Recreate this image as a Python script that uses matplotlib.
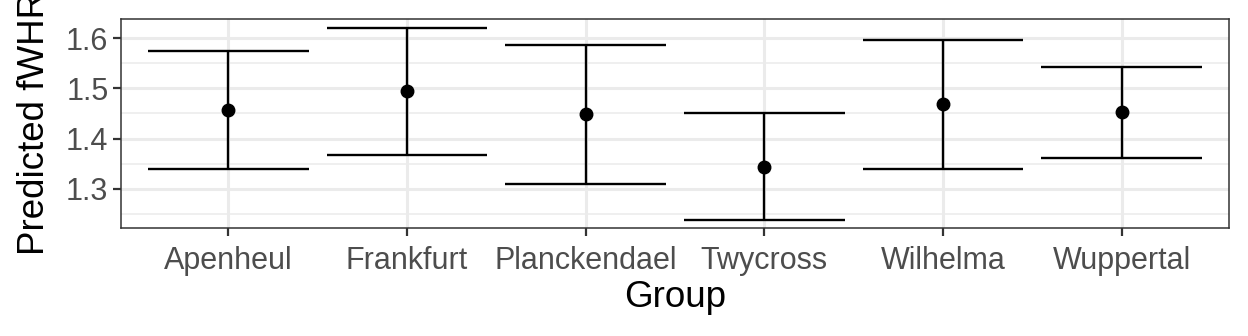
import matplotlib
matplotlib.use("Agg")
import matplotlib.pyplot as plt
from matplotlib.ticker import FixedLocator

groups = ["Apenheul", "Frankfurt", "Planckendael", "Twycross", "Wilhelma", "Wuppertal"]
fit = [1.456, 1.494, 1.448, 1.344, 1.468, 1.452]
lower = [1.340, 1.368, 1.310, 1.238, 1.340, 1.362]
upper = [1.574, 1.620, 1.586, 1.450, 1.596, 1.542]

plt.rcParams['font.family'] = ['Liberation Sans', 'DejaVu Sans']
DPI = 100
fig = plt.figure(figsize=(12.48, 3.36), dpi=DPI)
ax = fig.add_axes([121/1248, 1 - 228/336, (1229-121)/1248, (228-19)/336])

x = list(range(1, len(groups) + 1))
cap = 0.45
for xi, lo, hi in zip(x, lower, upper):
    ax.plot([xi, xi], [lo, hi], color='black', lw=1.7, solid_capstyle='butt', zorder=3)
    ax.plot([xi - cap, xi + cap], [lo, lo], color='black', lw=1.7, solid_capstyle='butt', zorder=3)
    ax.plot([xi - cap, xi + cap], [hi, hi], color='black', lw=1.7, solid_capstyle='butt', zorder=3)
ax.plot(x, fit, 'o', color='black', markersize=9, zorder=4)

ax.set_xlim(0.4, 6.6)
ax.set_ylim(1.222, 1.638)
ax.set_xticks(x)
ax.set_xticklabels(groups)
ax.yaxis.set_major_locator(FixedLocator([1.3, 1.4, 1.5, 1.6]))
ax.yaxis.set_minor_locator(FixedLocator([1.25, 1.35, 1.45, 1.55]))
ax.set_yticklabels(["1.3", "1.4", "1.5", "1.6"])

ax.grid(True, which='major', color='#EBEBEB', lw=2.2, zorder=0)
ax.grid(True, which='minor', axis='y', color='#EBEBEB', lw=1.1, zorder=0)
ax.set_axisbelow(True)
ax.tick_params(which='minor', length=0)
ax.tick_params(which='major', length=6, width=1.6, color='#333333',
               labelcolor='#4D4D4D', labelsize=22)
ax.tick_params(axis='x', which='major', pad=7)
ax.tick_params(axis='y', which='major', pad=3)
for s in ax.spines.values():
    s.set_color('#333333')
    s.set_linewidth(1.1)

ax.set_xlabel("Group", fontsize=26.5, color='black', labelpad=3)
ax.set_ylabel("Predicted fWHR", fontsize=26.5, color='black', labelpad=10)

fig.savefig("out.png", dpi=DPI, facecolor='white')
